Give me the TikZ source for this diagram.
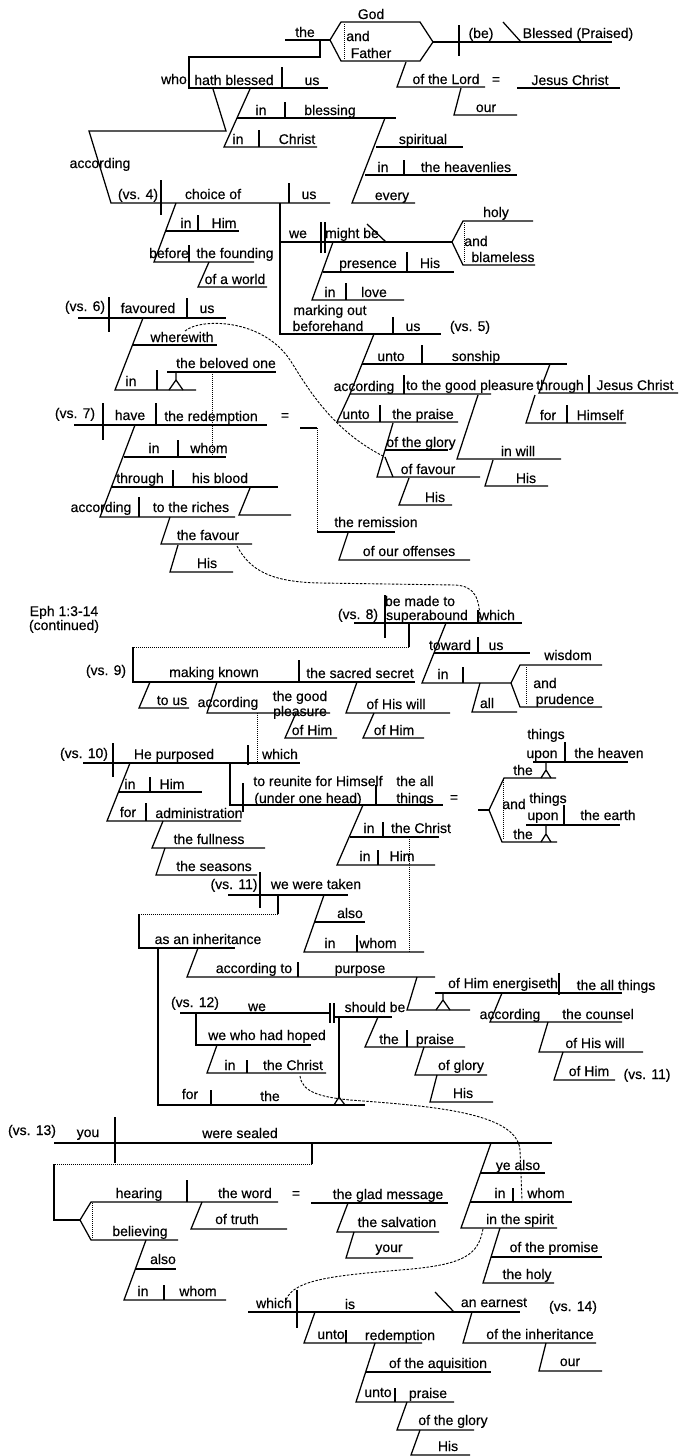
\documentclass[tikz,border=0pt]{standalone}
\usepackage{fontspec}
\setmainfont{Liberation Sans}
\newfontfamily\wordfamily{Liberation Sans}[FakeBold=0.35]
\usetikzlibrary{positioning}
\newcommand{\wordfont}{\wordfamily\fontsize{14}{16}\selectfont}
\begin{document}
\begin{tikzpicture}[
      x=1pt, y=-1pt, line width=1.25pt,
      word/.style={anchor=base, inner sep=0pt, font=\wordfont},
      link/.style={line width=0.9pt, dash pattern=on 2.5pt off 1.5pt},
      tie/.style={line width=1pt, densely dotted}
    ]
      \path[use as bounding box, fill=white] (0,0) rectangle (681,1456);

      \node[word] (god) at (371,19) {God};
      \node[word] (the) at (305,37) {the};
      \node[word] (and) at (358,41) {and};
      \node[word] (father) at (371,58) {Father};
      \node[word] (be) at (481,38) {(be)};
      \node[word] (blessed) at (578,38) {Blessed (Praised)};
      \node[word] (lord) at (446,84) {of the Lord};
      \node[word] (eq1) at (496,84) {=};
      \node[word] (jesus) at (570,85) {Jesus Christ};
      \node[word] (our) at (486,112) {our};
      \node[word] (who) at (174,84) {who};
      \node[word] (hathblessed) at (234,85) {hath blessed};
      \node[word] (us1) at (312,85) {us};
      \node[word] (in1) at (261,115) {in};
      \node[word] (blessing) at (330,115) {blessing};
      \node[word] (in2) at (238,144) {in};
      \node[word] (christ) at (297,144) {Christ};
      \node[word] (spiritual) at (423,144) {spiritual};
      \node[word] (in3) at (383,172) {in};
      \node[word] (heavenlies) at (466,172) {the heavenlies};
      \node[word] (every) at (392,200) {every};
      \node[word] (according1) at (100,168) {according};
      \node[word] (vs4) at (138,199) {(vs. 4)};
      \node[word] (choice) at (213,199) {choice of};
      \node[word] (us2) at (309,199) {us};
      \node[word] (in4) at (186,228) {in};
      \node[word] (him1) at (224,228) {Him};
      \node[word] (before) at (169,258) {before};
      \node[word] (founding) at (235,258) {the founding};
      \node[word] (world) at (235,284) {of a world};
      \node[word] (we1) at (298,238) {we};
      \node[word] (mightbe) at (352,238) {might be};
      \node[word] (holy) at (496,217) {holy};
      \node[word] (and2) at (476,246) {and};
      \node[word] (blameless) at (503,262) {blameless};
      \node[word] (presence) at (368,268) {presence};
      \node[word] (his1) at (430,268) {His};
      \node[word] (in5) at (330,297) {in};
      \node[word] (love) at (374,297) {love};
      \node[word] (marking) at (330,315) {marking out};
      \node[word] (beforehand) at (328,331) {beforehand};
      \node[word] (us3) at (413,331) {us};
      \node[word] (vs5) at (470,331) {(vs. 5)};
      \node[word] (vs6) at (85,311) {(vs. 6)};
      \node[word] (favoured) at (148,313) {favoured};
      \node[word] (us4) at (207,313) {us};
      \node[word] (wherewith) at (182,342) {wherewith};
      \node[word] (beloved) at (226,368) {the beloved one};
      \node[word] (in6) at (131,386) {in};
      \node[word] (unto1) at (391,361) {unto};
      \node[word] (sonship) at (476,361) {sonship};
      \node[word] (according2) at (364,391) {according};
      \node[word] (pleasure1) at (470,390) {to the good pleasure};
      \node[word] (through1) at (560,390) {through};
      \node[word] (jesus2) at (635,390) {Jesus Christ};
      \node[word] (for1) at (548,420) {for};
      \node[word] (himself) at (600,420) {Himself};
      \node[word] (unto2) at (356,419) {unto};
      \node[word] (praise1) at (423,419) {the praise};
      \node[word] (glory1) at (421,447) {of the glory};
      \node[word] (favour1) at (428,474) {of favour};
      \node[word] (his2) at (435,502) {His};
      \node[word] (inwill) at (518,456) {in will};
      \node[word] (his3) at (526,483) {His};
      \node[word] (vs7) at (75,418) {(vs. 7)};
      \node[word] (have) at (130,420) {have};
      \node[word] (redemption1) at (211,421) {the redemption};
      \node[word] (eq2) at (285,420) {=};
      \node[word] (remission) at (376,527) {the remission};
      \node[word] (offenses) at (409,556) {of our offenses};
      \node[word] (in7) at (154,453) {in};
      \node[word] (whom1) at (209,453) {whom};
      \node[word] (through2) at (140,483) {through};
      \node[word] (blood) at (220,483) {his blood};
      \node[word] (according3) at (101,512) {according};
      \node[word] (riches) at (191,512) {to the riches};
      \node[word] (favour2) at (208,540) {the favour};
      \node[word] (his4) at (207,568) {His};

      \node[word] (eph) at (64,616) {Eph 1:3-14};
      \node[word] (continued) at (64,630) {(continued)};
      \node[word] (vs8) at (358,619) {(vs. 8)};
      \node[word] (bemade) at (420,606) {be made to};
      \node[word] (superabound) at (427,620) {superabound};
      \node[word] (which1) at (497,620) {which};
      \node[word] (toward) at (450,650) {toward};
      \node[word] (us5) at (496,650) {us};
      \node[word] (in8) at (443,679) {in};
      \node[word] (wisdom) at (568,660) {wisdom};
      \node[word] (and3) at (545,688) {and};
      \node[word] (prudence) at (565,704) {prudence};
      \node[word] (all) at (487,708) {all};
      \node[word] (vs9) at (106,675) {(vs. 9)};
      \node[word] (makingknown) at (214,677) {making known};
      \node[word] (secret) at (360,678) {the sacred secret};
      \node[word] (tous) at (172,705) {to us};
      \node[word] (according4) at (228,707) {according};
      \node[word] (goodpl) at (300,701) {the good};
      \node[word] (pleasure2) at (300,716) {pleasure};
      \node[word] (ofhim1) at (312,735) {of Him};
      \node[word] (willof) at (396,709) {of His will};
      \node[word] (ofhim2) at (394,735) {of Him};

      \node[word] (vs10) at (84,758) {(vs. 10)};
      \node[word] (purposed) at (174,759) {He purposed};
      \node[word] (which2) at (280,759) {which};
      \node[word] (reunite) at (318,786) {to reunite for Himself};
      \node[word] (underhead) at (308,803) {(under one head)};
      \node[word] (theall1) at (415,786) {the all};
      \node[word] (things1) at (415,803) {things};
      \node[word] (eq3) at (454,802) {=};
      \node[word] (things2) at (546,739) {things};
      \node[word] (upon1) at (542,758) {upon};
      \node[word] (heaven) at (609,758) {the heaven};
      \node[word] (the2) at (523,775) {the};
      \node[word] (and4) at (514,809) {and};
      \node[word] (things3) at (548,803) {things};
      \node[word] (upon2) at (543,820) {upon};
      \node[word] (earth) at (608,820) {the earth};
      \node[word] (the3) at (523,839) {the};
      \node[word] (in9) at (130,789) {in};
      \node[word] (him2) at (172,789) {Him};
      \node[word] (for2) at (128,817) {for};
      \node[word] (administration) at (199,818) {administration};
      \node[word] (fullness) at (209,844) {the fullness};
      \node[word] (seasons) at (214,871) {the seasons};
      \node[word] (in10) at (369,833) {in};
      \node[word] (christ2) at (421,833) {the Christ};
      \node[word] (in11) at (365,861) {in};
      \node[word] (him3) at (402,861) {Him};

      \node[word] (vs11a) at (234,889) {(vs. 11)};
      \node[word] (taken) at (316,889) {we were taken};
      \node[word] (inheritance) at (208,944) {as an inheritance};
      \node[word] (also1) at (350,918) {also};
      \node[word] (in12) at (330,948) {in};
      \node[word] (whom2) at (378,948) {whom};
      \node[word] (accordingto) at (254,973) {according to};
      \node[word] (purpose) at (360,973) {purpose};
      \node[word] (energiseth) at (503,988) {of Him energiseth};
      \node[word] (allthings) at (616,990) {the all things};
      \node[word] (according5) at (510,1019) {according};
      \node[word] (counsel) at (598,1019) {the counsel};
      \node[word] (willof2) at (595,1048) {of His will};
      \node[word] (ofhim3) at (589,1076) {of Him};
      \node[word] (vs11b) at (647,1079) {(vs. 11)};

      \node[word] (vs12) at (195,1007) {(vs. 12)};
      \node[word] (we2) at (257,1011) {we};
      \node[word] (shouldbe) at (375,1012) {should be};
      \node[word] (hoped) at (267,1040) {we who had hoped};
      \node[word] (in13) at (230,1070) {in};
      \node[word] (christ3) at (293,1070) {the Christ};
      \node[word] (for3) at (190,1099) {for};
      \node[word] (the4) at (270,1101) {the};
      \node[word] (the5) at (389,1044) {the};
      \node[word] (praise2) at (435,1044) {praise};
      \node[word] (glory2) at (461,1070) {of glory};
      \node[word] (his5) at (463,1098) {His};

      \node[word] (vs13) at (32,1135) {(vs. 13)};
      \node[word] (you) at (88,1137) {you};
      \node[word] (sealed) at (240,1138) {were sealed};
      \node[word] (hearing) at (139,1198) {hearing};
      \node[word] (word) at (245,1198) {the word};
      \node[word] (eq4) at (296,1198) {=};
      \node[word] (gladmsg) at (388,1199) {the glad message};
      \node[word] (truth) at (237,1224) {of truth};
      \node[word] (salvation) at (397,1227) {the salvation};
      \node[word] (your) at (389,1252) {your};
      \node[word] (believing) at (140,1236) {believing};
      \node[word] (also2) at (163,1264) {also};
      \node[word] (in14) at (143,1296) {in};
      \node[word] (whom3) at (198,1296) {whom};
      \node[word] (yealso) at (518,1170) {ye also};
      \node[word] (in15) at (500,1198) {in};
      \node[word] (whom4) at (546,1198) {whom};
      \node[word] (spirit) at (520,1224) {in the spirit};
      \node[word] (promise) at (554,1252) {of the promise};
      \node[word] (holy2) at (527,1279) {the holy};
      \node[word] (which3) at (274,1308) {which};
      \node[word] (is) at (350,1309) {is};
      \node[word] (earnest) at (494,1307) {an earnest};
      \node[word] (vs14) at (573,1311) {(vs. 14)};
      \node[word] (unto3) at (331,1339) {unto};
      \node[word] (redemption2) at (400,1340) {redemption};
      \node[word] (inheritance2) at (540,1339) {of the inheritance};
      \node[word] (our2) at (570,1366) {our};
      \node[word] (aquisition) at (438,1368) {of the aquisition};
      \node[word] (unto4) at (378,1397) {unto};
      \node[word] (praise3) at (428,1398) {praise};
      \node[word] (glory3) at (453,1425) {of the glory};
      \node[word] (his6) at (448,1451) {His};

      \draw (285,40) -- (330,40);
      \draw (330,40) -- (341,22) -- (420,22) -- (433,42) -- (420,61) -- (341,61) -- cycle;
      \draw[tie] (344,24) -- (344,59);
      \draw (433,42) -- (612,42);
      \draw (459,25) -- (459,56);
      \draw (503,22) -- (521,42);
      \draw (406,62) -- (397,87) -- (485,87);
      \draw (517,88) -- (620,88);
      \draw (461,88) -- (454,115) -- (517,115);
      \draw (320,40) -- (320,57) -- (189,57) -- (189,88) -- (328,88);
      \draw (282,67) -- (282,88);
      \draw (213,89) -- (226,131) -- (89,131) -- (111,203) -- (330,203);
      \draw (250,89) -- (224,147) -- (317,147);
      \draw (237,118) -- (396,118);
      \draw (285,102) -- (285,118);
      \draw (259,130) -- (259,147);
      \draw (385,118) -- (352,203) -- (415,203);
      \draw (376,147) -- (463,147);
      \draw (365,175) -- (517,175);
      \draw (404,160) -- (404,175);
      \draw (161,180) -- (161,215);
      \draw (289,183) -- (289,203);
      \draw (280,203) -- (280,334) -- (441,334);
      \draw (176,203) -- (154,262) -- (254,262);
      \draw (165,231) -- (239,231);
      \draw (198,215) -- (198,231);
      \draw (189,245) -- (189,262);
      \draw (209,262) -- (198,287) -- (267,287);
      \draw (280,242) -- (452,242);
      \draw (321,222) -- (321,253);
      \draw (325,222) -- (325,253);
      \draw (367,224) -- (386,242);
      \draw (535,265) -- (463,265) -- (452,242) -- (463,221) -- (533,221);
      \draw[tie] (464,223) -- (464,263);
      \draw (333,242) -- (312,300) -- (404,300);
      \draw (323,272) -- (454,272);
      \draw (407,252) -- (407,272);
      \draw (346,283) -- (346,300);
      \draw (393,317) -- (393,334);
      \draw (374,334) -- (350,394) -- (491,394);
      \draw (362,364) -- (567,364);
      \draw (422,345) -- (422,364);
      \draw (404,375) -- (404,394);
      \draw (550,364) -- (539,393) -- (678,393);
      \draw (589,375) -- (589,393);
      \draw (535,395) -- (526,423) -- (626,423);
      \draw (567,405) -- (567,423);
      \draw (350,394) -- (337,422) -- (458,422);
      \draw (380,405) -- (380,422);
      \draw (393,423) -- (377,477) -- (480,477);
      \draw (385,450) -- (448,450);
      \draw (385,457) -- (393,477);
      \draw (409,478) -- (399,505) -- (452,505);
      \draw (478,395) -- (457,459) -- (561,459);
      \draw (493,460) -- (485,486) -- (548,486);

      \draw (78,318) -- (226,318);
      \draw (109,297) -- (109,332);
      \draw (187,298) -- (187,318);
      \draw (143,318) -- (115,390) -- (196,390);
      \draw (133,345) -- (217,345);
      \draw (157,370) -- (157,390);
      \draw (167,372) -- (276,372);
      \draw (176,372) -- (176,380) (169,390) -- (176,380) -- (183,390);
      \draw[tie] (212,372) -- (212,457);

      \draw (74,425) -- (267,425);
      \draw (103,403) -- (103,440);
      \draw (156,403) -- (156,425);
      \draw (300,428) -- (317,428);
      \draw[tie] (317,428) -- (317,532);
      \draw (317,532) -- (395,532);
      \draw (348,533) -- (339,560) -- (470,560);
      \draw (135,425) -- (100,517) -- (235,517);
      \draw (124,457) -- (226,457);
      \draw (178,440) -- (178,457);
      \draw (112,487) -- (278,487);
      \draw (173,470) -- (173,487);
      \draw (250,488) -- (239,515) -- (291,515);
      \draw (139,497) -- (139,517);
      \draw (170,517) -- (161,544) -- (252,544);
      \draw (178,545) -- (170,572) -- (233,572);

      \draw (354,623) -- (522,623);
      \draw (385,595) -- (385,638);
      \draw (478,610) -- (478,623);
      \draw (409,623) -- (409,647);
      \draw[tie] (409,647) -- (133,647);
      \draw (133,647) -- (133,682) -- (415,682);
      \draw (299,660) -- (299,682);
      \draw (150,682) -- (139,708) -- (189,708);
      \draw (217,682) -- (207,713) -- (330,713);
      \draw[tie] (257,713) -- (257,762);
      \draw (296,713) -- (285,738) -- (337,738);
      \draw (357,682) -- (346,713) -- (450,713);
      \draw (374,713) -- (363,738) -- (424,738);
      \draw (446,623) -- (422,683) -- (511,683);
      \draw (434,653) -- (530,653);
      \draw (478,637) -- (478,653);
      \draw (463,667) -- (463,683);
      \draw (602,707) -- (520,707) -- (511,683) -- (520,665) -- (602,665);
      \draw[tie] (526,667) -- (526,705);
      \draw (480,683) -- (472,712) -- (517,712);

      \draw (83,763) -- (300,763);
      \draw (113,743) -- (113,777);
      \draw (248,745) -- (248,765);
      \draw (230,763) -- (230,805) -- (443,805);
      \draw (243,783) -- (243,812);
      \draw (376,785) -- (376,805);
      \draw (130,763) -- (107,821) -- (241,821);
      \draw (118,792) -- (202,792);
      \draw (150,777) -- (150,792);
      \draw (146,803) -- (146,821);
      \draw (163,821) -- (152,848) -- (265,848);
      \draw (165,848) -- (156,875) -- (257,875);
      \draw (363,805) -- (337,865) -- (435,865);
      \draw (350,837) -- (439,837);
      \draw (383,822) -- (383,837);
      \draw (378,850) -- (378,865);
      \draw[tie] (409,837) -- (409,952);
      \draw (533,762) -- (628,762);
      \draw (565,742) -- (565,762);
      \draw (546,762) -- (546,771) (541,778) -- (546,770) -- (551,778);
      \draw (478,810) -- (489,810);
      \draw (556,778) -- (504,778) -- (489,810) -- (502,842) -- (557,842);
      \draw[tie] (503,780) -- (503,840);
      \draw (526,825) -- (620,825);
      \draw (564,805) -- (564,825);
      \draw (546,825) -- (546,834) (541,842) -- (546,834) -- (551,842);

      \draw (228,895) -- (348,895);
      \draw (260,872) -- (260,908);
      \draw (278,895) -- (278,914);
      \draw[tie] (278,914) -- (139,914);
      \draw (139,914) -- (139,948) -- (235,948);
      \draw (158,948) -- (158,1105) -- (365,1105);
      \draw (324,895) -- (304,952) -- (424,952);
      \draw (315,922) -- (365,922);
      \draw (357,935) -- (357,952);
      \draw (198,948) -- (187,977) -- (435,977);
      \draw (298,962) -- (298,977);
      \draw (435,993) -- (622,993);
      \draw (559,973) -- (559,995);
      \draw (417,977) -- (407,1010) -- (470,1010);
      \draw (443,993) -- (443,1001) (436,1010) -- (443,1000) -- (450,1010);
      \draw (502,993) -- (490,1022) -- (622,1022);
      \draw (548,1022) -- (539,1052) -- (643,1052);
      \draw (563,1052) -- (554,1080) -- (615,1080);

      \draw (180,1013) -- (331,1013);
      \draw (330,1003) -- (330,1023);
      \draw (334,1003) -- (334,1023);
      \draw (334,1017) -- (392,1017);
      \draw (339,1017) -- (339,1098);
      \draw (334,1105) -- (339,1097) -- (345,1105);
      \draw (196,1013) -- (196,1045) -- (311,1045);
      \draw (217,1045) -- (207,1073) -- (326,1073);
      \draw (247,1060) -- (247,1073);
      \draw (211,1090) -- (211,1105);
      \draw (378,1017) -- (365,1047) -- (465,1047);
      \draw (407,1030) -- (407,1047);
      \draw (424,1047) -- (415,1075) -- (487,1075);
      \draw (437,1075) -- (430,1102) -- (493,1102);

      \draw (54,1143) -- (552,1143);
      \draw (115,1117) -- (115,1163);
      \draw (312,1143) -- (312,1164);
      \draw[tie] (312,1164) -- (54,1164);
      \draw (54,1164) -- (54,1220) -- (80,1220);
      \draw (278,1202) -- (91,1202) -- (80,1220) -- (91,1240) -- (178,1240);
      \draw[tie] (92,1203) -- (92,1239);
      \draw (187,1180) -- (187,1202);
      \draw (202,1202) -- (191,1229) -- (287,1229);
      \draw (311,1203) -- (448,1203);
      \draw (348,1203) -- (337,1232) -- (439,1232);
      \draw (354,1232) -- (346,1258) -- (413,1258);
      \draw (146,1240) -- (124,1300) -- (226,1300);
      \draw (135,1269) -- (176,1269);
      \draw (164,1285) -- (164,1300);
      \draw (491,1143) -- (461,1228) -- (557,1228);
      \draw (481,1173) -- (545,1173);
      \draw (470,1202) -- (572,1202);
      \draw (513,1188) -- (513,1202);
      \draw (500,1228) -- (483,1283) -- (554,1283);
      \draw (491,1257) -- (602,1257);
      \draw (248,1312) -- (520,1312);
      \draw (297,1290) -- (297,1328);
      \draw (435,1292) -- (454,1312);
      \draw (315,1312) -- (304,1343) -- (422,1343);
      \draw (346,1330) -- (346,1343);
      \draw (472,1312) -- (463,1343) -- (596,1343);
      \draw (546,1343) -- (539,1371) -- (602,1371);
      \draw (375,1343) -- (356,1402) -- (454,1402);
      \draw (366,1372) -- (491,1372);
      \draw (395,1388) -- (395,1402);
      \draw (407,1402) -- (397,1430) -- (474,1430);
      \draw (420,1430) -- (411,1455) -- (470,1455);

      \coordinate (wwA) at (185,331);
      \coordinate (wwB) at (385,457);
      \coordinate (fvA) at (237,546);
      \coordinate (fvB) at (480,623);
      \coordinate (chA) at (300,1076);
      \coordinate (chB) at (522,1200);
      \coordinate (spA) at (483,1229);
      \coordinate (spB) at (285,1305);
      \draw[link] (wwA) .. controls (200,318) and (262,318) .. (290,360) .. controls (305,383) and (330,430) .. (wwB);
      \draw[link] (fvA) .. controls (250,570) and (270,582) .. (320,583) -- (455,585) .. controls (475,586) and (480,598) .. (fvB);
      \draw[link] (chA) .. controls (302,1092) and (320,1097) .. (350,1100) .. controls (430,1106) and (517,1112) .. (520,1150) -- (chB);
      \draw[link] (spA) .. controls (478,1255) and (465,1265) .. (400,1270) .. controls (330,1276) and (287,1280) .. (spB);
    \end{tikzpicture}
\end{document}
